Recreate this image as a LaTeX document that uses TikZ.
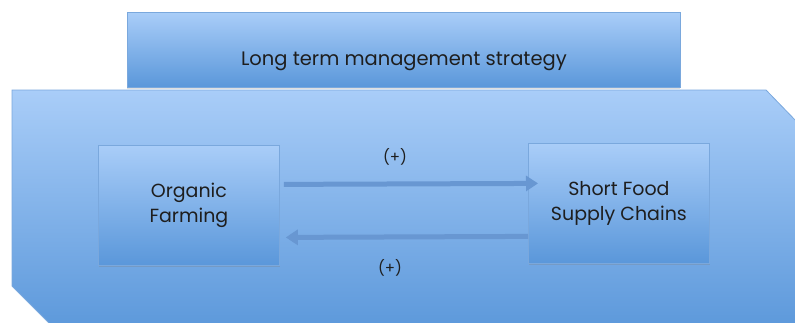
\documentclass[tikz,border=0pt]{standalone}
\usepackage{fontspec}
\setmainfont{Poppins}
\usetikzlibrary{arrows.meta,shadows}
\definecolor{boxtop}{HTML}{A9CDF8}
\definecolor{boxbot}{HTML}{5A97DA}
\definecolor{boxline}{HTML}{7AA8DD}
\definecolor{arrowc}{HTML}{6897D2}
\definecolor{txt}{HTML}{1E1E1E}
\tikzset{
  panel/.style={top color=boxtop, bottom color=boxbot, draw=boxline, line width=0.8pt},
  inner/.style={panel, minimum width=181pt, minimum height=120pt, align=center,
     font=\fontsize{19}{25}\selectfont, text=txt,
     drop shadow={shadow xshift=1pt, shadow yshift=-2pt, opacity=0.3}},
  flow/.style={draw=arrowc, line width=5pt, -{Triangle[length=12pt,width=15pt]}},
  sign/.style={font=\fontsize{15}{18}\selectfont, text=txt}
}
\begin{document}
\begin{tikzpicture}[x=1pt,y=-1pt]
\useasboundingbox (0,0) rectangle (795,322);
\clip (0,0) rectangle (795,322);
% top banner
\node[panel, minimum width=553pt, minimum height=75pt, anchor=north west,
      font=\fontsize{19.5}{23}\selectfont, text=txt, text height=36pt, text depth=5pt,
      drop shadow={shadow xshift=0pt, shadow yshift=-2pt, opacity=0.25}]
  (strategy) at (127,12) {Long term management strategy};
% big panel
\path[panel] (12,90) -- (766,90) -- (830,156) -- (830,335) -- (61,335) -- (12,286) -- cycle;
% inner boxes
\node[inner, anchor=north west] (organic) at (98,145) {Organic\\Farming};
\node[inner, anchor=north west] (sfsc) at (528,143) {Short Food\\Supply Chains};
% arrows
\draw[flow] ([yshift=21pt,xshift=4pt]organic.east) -- ([yshift=20pt,xshift=10pt]sfsc.west);
\draw[flow] ([yshift=-33pt]sfsc.west) -- ([yshift=-32pt,xshift=6pt]organic.east);
\node[sign] (plus1) at (395,157) {(+)};
\node[sign] (plus2) at (390,268) {(+)};
\end{tikzpicture}
\end{document}
